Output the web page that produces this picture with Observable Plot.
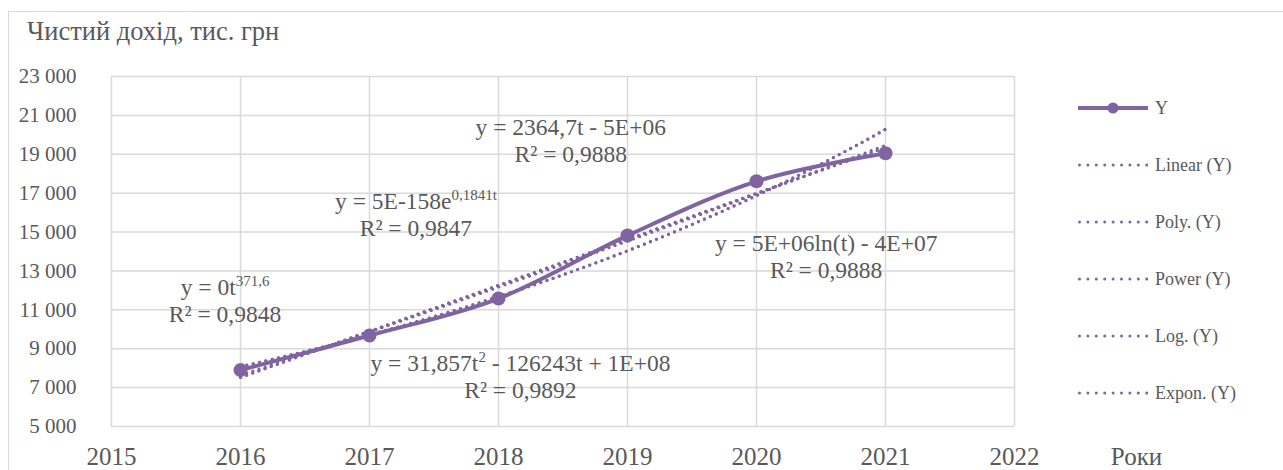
<!DOCTYPE html>
<html><head><meta charset="utf-8">
<script src="https://cdn.jsdelivr.net/npm/d3@7"></script>
<script src="https://cdn.jsdelivr.net/npm/@observablehq/plot@0.6"></script>
<style>
body{margin:0;background:#fff;font-family:Liberation Serif, Tinos, serif;color:#595959}
#wrap{position:relative;width:1283px;height:470px;overflow:hidden;font-family:Liberation Serif, Tinos, serif}
#frame{position:absolute;left:8px;top:11px;width:1400px;height:600px;border:1.5px solid #d9d9d9;box-sizing:border-box;pointer-events:none}
#title{height:50px;box-sizing:border-box;padding:18px 0 0 27px;font-size:26.5px;line-height:26px;white-space:nowrap;position:relative}
#chart{position:relative}
#chart svg, #chart svg text{font-family:Liberation Serif, Tinos, serif !important}
.li{position:absolute;left:1078px;height:20px;display:flex;align-items:center;font-size:18px;white-space:nowrap;color:#595959}
.li svg{margin-right:7px}
</style></head><body>
<div id="wrap"><div id="frame"></div><div id="title" style="font-family:'Liberation Serif'"></div><div id="chart"></div><div id="legend" style="font-family:'Liberation Serif'"></div></div>
<script>
// ---- data ----
const titleText = "Чистий дохід, тис. грн";
const xLabel = "Роки";
const years = [2016, 2017, 2018, 2019, 2020, 2021];
const values = [7900, 9680, 11580, 14820, 17610, 19050];
const xTicks = [2015, 2016, 2017, 2018, 2019, 2020, 2021, 2022];
const yTicks = [5000, 7000, 9000, 11000, 13000, 15000, 17000, 19000, 21000, 23000];
const legendLabels = ["Y", "Linear (Y)", "Poly. (Y)", "Power (Y)", "Log. (Y)", "Expon. (Y)"];
// trendline equation labels, anchored in data coordinates
const annotT  = [2018.56, 2017.36, 2020.54, 2018.17, 2015.88];
const annotV  = [19700, 15880, 13720, 7570, 11480];
const annotEq = ["y = 2364,7t - 5E+06", "y = 5E-158e^{0,1841t}", "y = 5E+06ln(t) - 4E+07", "y = 31,857t^{2} - 126243t + 1E+08", "y = 0t^{371,6}"];
const annotR2 = ["R² = 0,9888", "R² = 0,9847", "R² = 0,9888", "R² = 0,9892", "R² = 0,9848"];

const purple = "#8064A2";
const textColor = "#595959";
const gridColor = "#d9d9d9";
const font = "Liberation Serif, Tinos, serif";

document.getElementById("title").textContent = titleText;

const series = years.map((t, i) => ({t, v: values[i]}));
const annots = annotT.map((t, i) => ({t, v: annotV[i], eq: annotEq[i], r2: annotR2[i]}));

// ---- least-squares trendlines fitted to the data ----
function fitLinear(xs, ys) {
  const mx = d3.mean(xs), my = d3.mean(ys);
  let sxy = 0, sxx = 0;
  xs.forEach((x, i) => { sxy += (x - mx) * (ys[i] - my); sxx += (x - mx) ** 2; });
  const b = sxy / sxx;
  return {a: my - b * mx, b};
}
function fitPoly2(xs, ys) {
  const m = d3.mean(xs);
  const us = xs.map(x => x - m);
  const S = k => d3.sum(us, u => u ** k);
  const T = k => d3.sum(us, (u, i) => u ** k * ys[i]);
  const A = [[S(0), S(1), S(2)], [S(1), S(2), S(3)], [S(2), S(3), S(4)]];
  const B = [T(0), T(1), T(2)];
  const det = M => M[0][0]*(M[1][1]*M[2][2]-M[1][2]*M[2][1]) - M[0][1]*(M[1][0]*M[2][2]-M[1][2]*M[2][0]) + M[0][2]*(M[1][0]*M[2][1]-M[1][1]*M[2][0]);
  const D = det(A);
  const c = [0, 1, 2].map(j => det(A.map((row, r) => row.map((v, k) => k === j ? B[r] : v))) / D);
  return x => { const u = x - m; return c[0] + c[1] * u + c[2] * u * u; };
}
const lin = fitLinear(years, values);
const poly = fitPoly2(years, values);
const pow = fitLinear(years.map(Math.log), values.map(Math.log));
const lg = fitLinear(years.map(Math.log), values);
const ex = fitLinear(years.map(t => t - 2016), values.map(Math.log));

const fits = [
  ["Linear", t => lin.a + lin.b * t],
  ["Poly", poly],
  ["Power", t => Math.exp(pow.a + pow.b * Math.log(t))],
  ["Log", t => lg.a + lg.b * Math.log(t)],
  ["Expon", t => Math.exp(ex.a + ex.b * (t - 2016))]
];
const tGrid = d3.range(0, 101).map(i => years[0] + (years[years.length - 1] - years[0]) * i / 100);
const trend = fits.flatMap(([type, f]) => tGrid.map(t => ({type, t, v: f(t)})));

const fmt = d => d3.format(",")(d).replace(/,/g, " ");

const plot = Plot.plot({
  width: 1283, height: 420,
  marginTop: 26, marginBottom: 44, marginLeft: 111, marginRight: 269,
  style: {fontFamily: font, color: textColor, background: "transparent", overflow: "visible"},
  x: {domain: [2015, 2022]},
  y: {domain: [5000, 23000]},
  marks: [
    Plot.gridX(xTicks, {stroke: gridColor, strokeOpacity: 1, strokeWidth: 1.5}),
    Plot.gridY(yTicks, {stroke: gridColor, strokeOpacity: 1, strokeWidth: 1.5}),
    Plot.axisX(xTicks, {tickSize: 0, tickPadding: 21, fontSize: 25, tickFormat: d => String(d), label: null, fill: textColor}),
    Plot.axisY(yTicks, {tickSize: 0, tickPadding: 35, fontSize: 21, tickFormat: fmt, label: null, fill: textColor}),
    Plot.text([xLabel], {text: d => d, frameAnchor: "bottom-right", textAnchor: "middle", lineAnchor: "top", dx: 122, dy: 21, fontSize: 25, fill: textColor}),
    Plot.line(series, {x: "t", y: "v", stroke: purple, strokeWidth: 4, curve: "cardinal"}),
    Plot.dot(series, {x: "t", y: "v", r: 7, fill: purple, stroke: "none"}),
    Plot.line(trend, {x: "t", y: "v", z: "type", stroke: purple, strokeWidth: 3.2, strokeDasharray: "0,6.5", strokeLinecap: "round"}),
    Plot.text(annots, {x: "t", y: "v", text: "eq", dy: -13.5, fontSize: 23.5, fill: textColor, className: "eqlab"}),
    Plot.text(annots, {x: "t", y: "v", text: "r2", dy: 13.5, fontSize: 23.5, fill: textColor})
  ]
});
plot.setAttribute("font-family", font);
document.getElementById("chart").appendChild(plot);

// superscripts in equation labels
plot.querySelectorAll(".eqlab text").forEach(el => {
  const s = el.textContent;
  const parts = s.split(/\^\{([^}]*)\}/);
  if (parts.length === 1) return;
  el.textContent = "";
  const ns = "http://www.w3.org/2000/svg";
  let shift = 0;
  parts.forEach((p, i) => {
    if (!p) return;
    const ts = document.createElementNS(ns, "tspan");
    ts.textContent = p;
    if (i % 2 === 1) {
      ts.setAttribute("font-size", "15");
      ts.setAttribute("dy", "-9");
      shift = 9;
    } else if (shift) {
      ts.setAttribute("dy", String(shift));
      shift = 0;
    }
    el.appendChild(ts);
  });
});

// legend
const legend = document.getElementById("legend");
const itemTops = [108, 165, 222, 279, 336, 393];
legendLabels.forEach((lab, i) => {
  const div = document.createElement("div");
  div.className = "li";
  div.style.top = (itemTops[i] - 10) + "px";
  const svg = d3.create("svg").attr("width", 70).attr("height", 20);
  if (i === 0) {
    svg.append("line").attr("x1", 1).attr("x2", 69).attr("y1", 10).attr("y2", 10).attr("stroke", purple).attr("stroke-width", 4).attr("stroke-linecap", "round");
    svg.append("circle").attr("cx", 35).attr("cy", 10).attr("r", 5.5).attr("fill", purple);
  } else {
    svg.append("line").attr("x1", 1.5).attr("x2", 69).attr("y1", 10).attr("y2", 10).attr("stroke", purple).attr("stroke-width", 3).attr("stroke-dasharray", "0,8.4").attr("stroke-linecap", "round");
  }
  div.appendChild(svg.node());
  const span = document.createElement("span");
  span.textContent = lab;
  div.appendChild(span);
  legend.appendChild(div);
});
</script>
</body></html>
